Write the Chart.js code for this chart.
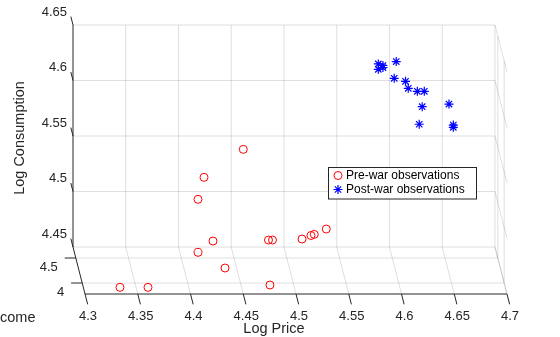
<!DOCTYPE html>
<html>
<head>
<meta charset="utf-8">
<script src="https://cdn.jsdelivr.net/npm/chart.js@4.4.0/dist/chart.umd.min.js"></script>
<style>
  html, body { margin: 0; padding: 0; background: #fff; }
  canvas { display: block; }
</style>
</head>
<body>
<canvas id="chart" width="560" height="337"></canvas>
<script>
// Observations (log price, log consumption)
const preWarPrice = [4.4614, 4.4242, 4.4185, 4.4327, 4.4185, 4.4441, 4.3445, 4.3711, 4.4867, 4.4853, 4.4891, 4.5171, 4.5256, 4.5287, 4.5401];
const preWarCons = [4.5380, 4.5128, 4.4930, 4.4554, 4.4452, 4.4311, 4.4137, 4.4137, 4.4158, 4.4563, 4.4563, 4.4572, 4.4604, 4.4614, 4.4662];
const postWarPrice = [4.5894, 4.5938, 4.5938, 4.5894, 4.6064, 4.6045, 4.6152, 4.6178, 4.6264, 4.6330, 4.6310, 4.6282, 4.6564, 4.6605, 4.6605];
const postWarCons = [4.6149, 4.6135, 4.6117, 4.6101, 4.6171, 4.6020, 4.5993, 4.5930, 4.5903, 4.5903, 4.5764, 4.5606, 4.5788, 4.5599, 4.5578];

// Axis ticks
const priceTicks = [4.3, 4.35, 4.4, 4.45, 4.5, 4.55, 4.6, 4.65, 4.7];
const consTicks = [4.45, 4.5, 4.55, 4.6, 4.65];
const incomeTicks = [4.5, 4];
const incomeRange = [3.78, 4.72]; // front edge .. back wall

// shift (data units) going from the back wall to the front of the box
const depthX = 0.0114;
const depthY = -0.0423;

const fontFamily = '"Liberation Sans", Arial, sans-serif';
const textColor = "#262626";
const gridColor = "rgba(38,38,38,0.15)";

Chart.defaults.font.family = fontFamily;
Chart.defaults.color = textColor;

function depthOf(income) {
    return (incomeRange[1] - income) / (incomeRange[1] - incomeRange[0]);
}

function toPoints(xs, ys) {
    return xs.map((x, i) => ({ x: x, y: ys[i] }));
}

// Grid walls, axis lines and the income axis, drawn under the points
const boxPlugin = {
    id: "box3d",
    beforeDatasetsDraw(chart) {
        const ctx = chart.ctx;
        const xs = chart.scales.x;
        const ys = chart.scales.y;
        const px = (x, d) => xs.getPixelForValue(x + depthX * d);
        const py = (y, d) => ys.getPixelForValue(y + depthY * d);
        const xMin = priceTicks[0], xMax = priceTicks[priceTicks.length - 1];
        const zMin = consTicks[0], zMax = consTicks[consTicks.length - 1];

        function line(x1, y1, x2, y2) {
            ctx.beginPath();
            ctx.moveTo(x1, y1);
            ctx.lineTo(x2, y2);
            ctx.stroke();
        }

        ctx.save();
        ctx.lineWidth = 1;
        ctx.strokeStyle = gridColor;

        // back wall
        consTicks.forEach(z => line(px(xMin, 0), py(z, 0), px(xMax, 0), py(z, 0)));
        priceTicks.slice(1).forEach(x => line(px(x, 0), py(zMin, 0), px(x, 0), py(zMax, 0)));

        // floor
        incomeTicks.forEach(inc => {
            const d = depthOf(inc);
            line(px(xMin, d), py(zMin, d), px(xMax, d), py(zMin, d));
        });
        priceTicks.slice(1).forEach(x => line(px(x, 0), py(zMin, 0), px(x, 1), py(zMin, 1)));

        // side wall
        consTicks.forEach(z => line(px(xMax, 0), py(z, 0), px(xMax, 1), py(z, 1)));
        incomeTicks.forEach(inc => {
            const d = depthOf(inc);
            line(px(xMax, d), py(zMin, d), px(xMax, d), py(zMax, d));
        });

        // axis lines
        ctx.strokeStyle = textColor;
        line(px(xMin, 0), py(zMax, 0), px(xMin, 0), py(zMin, 0));
        line(px(xMin, 0), py(zMin, 0), px(xMin, 1), py(zMin, 1));
        line(px(xMin, 1), py(zMin, 1), px(xMax, 1), py(zMin, 1));

        // tick marks
        priceTicks.forEach(x => line(px(x, 1), py(zMin, 1), px(x, 1.22), py(zMin, 1.22)));
        consTicks.forEach(z => line(px(xMin, 0), py(z, 0), px(xMin, -0.18), py(z, -0.18)));

        // income ticks + labels
        ctx.font = "13px " + fontFamily;
        ctx.fillStyle = textColor;
        ctx.textAlign = "right";
        ctx.textBaseline = "middle";
        incomeTicks.forEach(inc => {
            const d = depthOf(inc);
            const x0 = px(xMin - 0.0105, d);
            const y0 = py(zMin, d);
            line(x0, y0, px(xMin, d), y0);
            ctx.fillText(String(inc), x0 - 7, y0 + 9);
        });

        // axis titles
        ctx.font = "14.5px " + fontFamily;
        ctx.textAlign = "center";
        ctx.fillText("Log Price", 274, 328.5);
        ctx.textAlign = "right";
        ctx.fillText("Log Income", 35.5, 318);
        ctx.translate(20, 138);
        ctx.rotate(-Math.PI / 2);
        ctx.textAlign = "center";
        ctx.fillText("Log Consumption", 0, 0);
        ctx.restore();
    },
    afterDatasetsDraw(chart) {
        const ctx = chart.ctx;
        const box = { x: 328.5, y: 167.5, w: 148, h: 31.5 };
        const rows = [175.5, 189.5];
        ctx.save();
        ctx.fillStyle = "#fff";
        ctx.fillRect(box.x, box.y, box.w, box.h);
        ctx.strokeStyle = textColor;
        ctx.lineWidth = 1;
        ctx.strokeRect(box.x, box.y, box.w, box.h);
        ctx.font = "12px " + fontFamily;
        ctx.textAlign = "left";
        ctx.textBaseline = "middle";
        chart.data.datasets.forEach((ds, i) => {
            ctx.strokeStyle = ds.pointBorderColor;
            ctx.fillStyle = "rgba(0,0,0,0)";
            ctx.lineWidth = ds.pointBorderWidth;
            Chart.helpers.drawPoint(ctx, {
                pointStyle: ds.pointStyle,
                radius: ds.pointRadius,
                rotation: 0,
                borderWidth: ds.pointBorderWidth
            }, 338, rows[i]);
            ctx.fillStyle = "#000";
            ctx.fillText(ds.label, 346, rows[i]);
        });
        ctx.restore();
    }
};

new Chart(document.getElementById("chart"), {
    type: "scatter",
    data: {
        datasets: [
            {
                label: "Pre-war observations",
                data: toPoints(preWarPrice, preWarCons),
                pointStyle: "circle",
                pointRadius: 4,
                pointBorderWidth: 1,
                pointBorderColor: "#ff0000",
                pointBackgroundColor: "rgba(0,0,0,0)"
            },
            {
                label: "Post-war observations",
                data: toPoints(postWarPrice, postWarCons),
                pointStyle: "star",
                pointRadius: 4.5,
                pointBorderWidth: 1.2,
                pointBorderColor: "#0000ff",
                pointBackgroundColor: "#0000ff"
            }
        ]
    },
    options: {
        responsive: false,
        animation: false,
        layout: { padding: { top: 25, right: 53, left: 0, bottom: 0 } },
        plugins: {
            legend: { display: false },
            tooltip: { enabled: false }
        },
        scales: {
            x: {
                type: "linear",
                min: priceTicks[0],
                max: priceTicks[priceTicks.length - 1] + depthX,
                grid: { display: false, drawTicks: false },
                border: { display: false },
                afterBuildTicks: scale => { scale.ticks = priceTicks.map(v => ({ value: v })); },
                afterFit: scale => { scale.height = 43; },
                ticks: {
                    font: { size: 13 },
                    padding: 15,
                    labelOffset: 15,
                    maxRotation: 0,
                    callback: v => String(Math.round(v * 100) / 100)
                }
            },
            y: {
                type: "linear",
                min: consTicks[0] + depthY,
                max: consTicks[consTicks.length - 1],
                grid: { display: false, drawTicks: false },
                border: { display: false },
                afterBuildTicks: scale => { scale.ticks = consTicks.map(v => ({ value: v })); },
                afterFit: scale => { scale.width = 73; },
                ticks: {
                    font: { size: 13 },
                    padding: 6,
                    labelOffset: -13,
                    callback: v => String(Math.round(v * 100) / 100)
                }
            }
        }
    },
    plugins: [boxPlugin]
});
</script>
</body>
</html>
